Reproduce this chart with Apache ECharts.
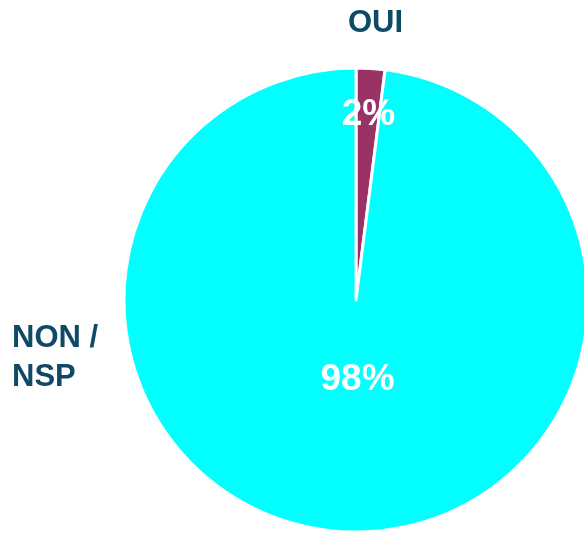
<!DOCTYPE html>
<html>
<head>
<meta charset="utf-8">
<script src="https://cdn.jsdelivr.net/npm/echarts@6/dist/echarts.min.js"></script>
<style>
  html, body { margin: 0; padding: 0; background: #fff; }
  #chart { width: 584px; height: 533px; }
</style>
</head>
<body>
<div id="chart"></div>
<script>
// données
var categories = ["OUI", "NON / NSP"];
var values = [2, 98];
var colors = ["#993366", "#00FFFF"];

var chart = echarts.init(document.getElementById("chart"));

// déplacement des étiquettes de pourcentage à l'intérieur des parts
var labelShift = [[5, -66], [9, -39]];

chart.setOption({
  animation: false,
  color: colors,
  graphic: [
    {
      type: "text",
      left: 348,
      top: 8,
      style: {
        text: categories[0],
        font: "bold 31px 'Liberation Sans', Arial, sans-serif",
        fill: "#0E4A66"
      }
    },
    {
      type: "text",
      left: 12,
      top: 319,
      style: {
        text: "NON /\nNSP",
        font: "bold 31px 'Liberation Sans', Arial, sans-serif",
        lineHeight: 39,
        fill: "#0E4A66"
      }
    }
  ],
  series: [
    {
      type: "pie",
      center: [356, 300],
      radius: 232,
      startAngle: 90,
      clockwise: true,
      itemStyle: { borderColor: "#fff", borderWidth: 3 },
      label: {
        show: true,
        position: "inside",
        formatter: "{c}%",
        color: "#fff",
        fontSize: 37,
        fontWeight: "bold",
        fontFamily: "'Liberation Sans', Arial, sans-serif"
      },
      labelLine: { show: false },
      labelLayout: function (params) {
        var s = labelShift[params.dataIndex];
        return { dx: s[0], dy: s[1] };
      },
      data: categories.map(function (c, i) {
        return { name: c, value: values[i] };
      })
    }
  ]
});
</script>
</body>
</html>
